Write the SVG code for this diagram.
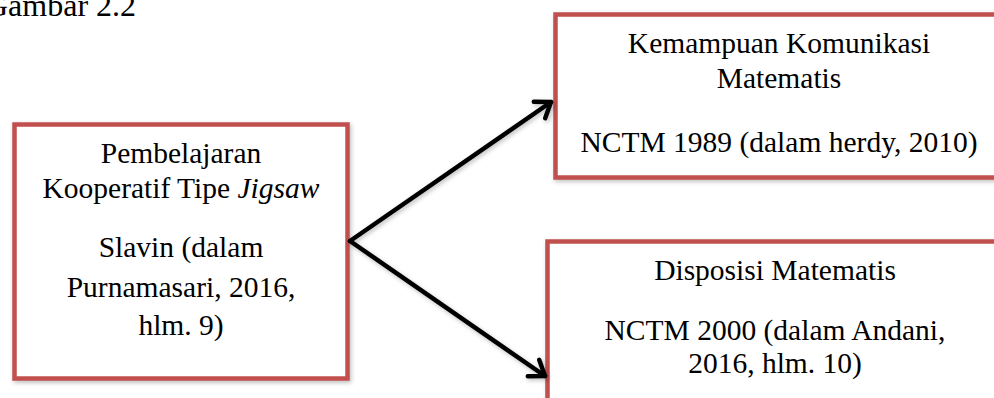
<svg xmlns="http://www.w3.org/2000/svg" width="994" height="398" viewBox="0 0 994 398">
<style>
.box{fill:#ffffff;stroke:#C0504D;stroke-width:4.5}
.t{font-family:"Liberation Serif","Times New Roman",serif;font-size:29.5px;fill:#000;text-anchor:middle}
.cap{font-family:"Liberation Serif","Times New Roman",serif;font-size:32px;fill:#000}
.conn{fill:none;stroke:#000;stroke-width:4.5;stroke-linecap:round}
</style>
<defs>
<filter id="sh" x="-20%" y="-20%" width="140%" height="140%">
<feDropShadow dx="1.5" dy="2" stdDeviation="2" flood-color="#000" flood-opacity="0.25"/>
</filter>
<marker id="ah" markerUnits="userSpaceOnUse" markerWidth="30" markerHeight="30" refX="18" refY="12" orient="auto" viewBox="0 0 30 24">
<path d="M4,2 L18,12 L4,22" fill="none" stroke="#000" stroke-width="4.5" stroke-linecap="round" stroke-linejoin="round"/>
</marker>
</defs>
<text class="cap" x="-15" y="16">Gambar 2.2</text>
<g id="node-jigsaw">
<rect class="box" x="14.5" y="124.5" width="333" height="254" filter="url(#sh)"/>
<text class="t" x="181" y="163">Pembelajaran</text>
<text class="t" x="181" y="198">Kooperatif Tipe <tspan font-style="italic">Jigsaw</tspan></text>
<text class="t" x="181" y="257">Slavin (dalam</text>
<text class="t" x="181" y="297">Purnamasari, 2016,</text>
<text class="t" x="181" y="335">hlm. 9)</text>
</g>
<g id="node-komunikasi">
<rect class="box" x="555.5" y="14.5" width="460" height="163" filter="url(#sh)"/>
<text class="t" x="779" y="53">Kemampuan Komunikasi</text>
<text class="t" x="779" y="88">Matematis</text>
<text class="t" x="779" y="152">NCTM 1989 (dalam herdy, 2010)</text>
</g>
<g id="node-disposisi">
<rect class="box" x="547.5" y="241.5" width="470" height="180" filter="url(#sh)"/>
<text class="t" x="775" y="280">Disposisi Matematis</text>
<text class="t" x="775" y="340">NCTM 2000 (dalam Andani,</text>
<text class="t" x="775" y="373">2016, hlm. 10)</text>
</g>
<g id="connectors" filter="url(#sh)">
<path class="conn" d="M350,241 L551,102" marker-end="url(#ah)"/>
<path class="conn" d="M350,241 L545,376" marker-end="url(#ah)"/>
</g>
</svg>
